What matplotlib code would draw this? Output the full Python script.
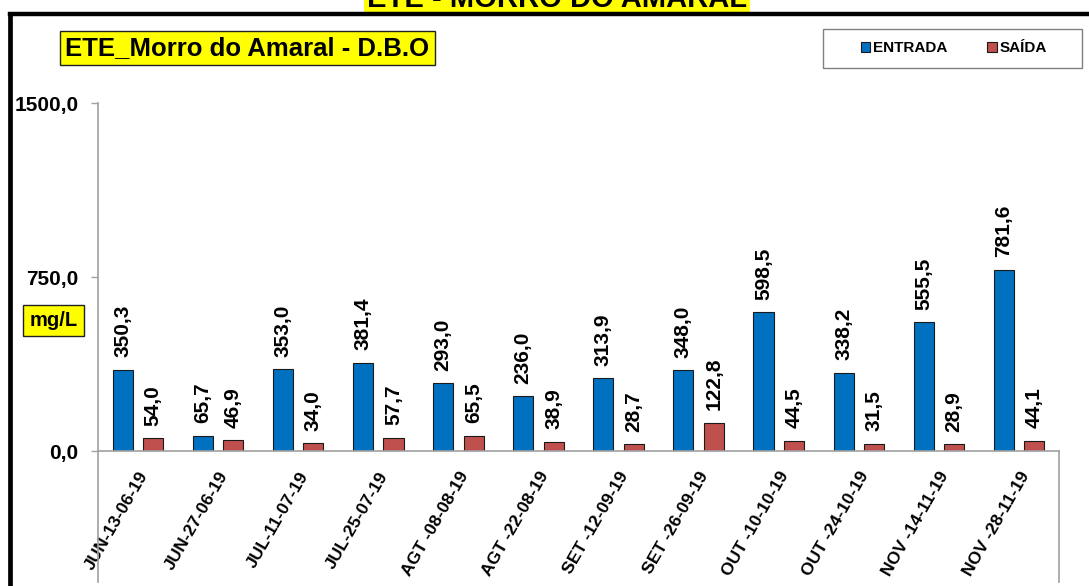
import numpy as np
import matplotlib
matplotlib.use("Agg")
import matplotlib.pyplot as plt
import matplotlib.transforms as mtransforms
from matplotlib.lines import Line2D
from matplotlib.patches import Rectangle

plt.rcParams['font.family'] = ['Liberation Sans', 'DejaVu Sans']
plt.rcParams['font.weight'] = 'bold'

# dados
datas = ['JUN-13-06-19', 'JUN-27-06-19', 'JUL-11-07-19', 'JUL-25-07-19',
         'AGT -08-08-19', 'AGT -22-08-19', 'SET -12-09-19', 'SET -26-09-19',
         'OUT -10-10-19', 'OUT -24-10-19', 'NOV -14-11-19', 'NOV -28-11-19']
entrada = [350.3, 65.7, 353.0, 381.4, 293.0, 236.0, 313.9, 348.0, 598.5, 338.2, 555.5, 781.6]
saida = [54.0, 46.9, 34.0, 57.7, 65.5, 38.9, 28.7, 122.8, 44.5, 31.5, 28.9, 44.1]
yticks = [0, 750, 1500]

W, H = 1089, 586
fig = plt.figure(figsize=(W / 100, H / 100), dpi=100)
ax = fig.add_axes([98 / W, 1 - 451 / H, (1059 - 98) / W, (451 - 103) / H])

x = np.arange(len(datas))
largura = 0.25
b1 = ax.bar(x - 0.19, entrada, largura, color='#0070C0', edgecolor='#1a1a1a', linewidth=0.8, label='ENTRADA')
b2 = ax.bar(x + 0.19, saida, largura, color='#C0504D', edgecolor='#1a1a1a', linewidth=0.8, label='SAÍDA')

def fmt(v):
    return f"{v:.1f}".replace('.', ',')

for bars, vals in ((b1, entrada), (b2, saida)):
    for b, v in zip(bars, vals):
        ax.annotate(fmt(v), (b.get_x() + b.get_width() / 2, v), xytext=(0, 9),
                    textcoords='offset points', rotation=90, ha='center', va='bottom',
                    fontsize=15, fontweight='bold')

ax.set_xlim(-0.5, len(datas) - 0.5)
ax.set_ylim(0, 1500)
ax.set_yticks(yticks)
ax.set_yticklabels([fmt(v) for v in yticks], fontsize=15, fontweight='bold')
ax.set_xticks(x)
ax.set_xticklabels(datas, rotation=60, ha='right', va='top', rotation_mode='anchor',
                   fontsize=12.6, fontweight='bold')
desloc = mtransforms.ScaledTranslation(-5 / 100, 0, fig.dpi_scale_trans)
for lab in ax.get_xticklabels():
    lab.set_transform(lab.get_transform() + desloc)
ax.tick_params(axis='x', length=0, pad=13)
ax.tick_params(axis='y', length=5, width=1, color='#A0A0A0', pad=9)
for s in ('top', 'right'):
    ax.spines[s].set_visible(False)
for s in ('left', 'bottom'):
    ax.spines[s].set_color('#A0A0A0')
    ax.spines[s].set_linewidth(1.2)
ax.set_facecolor('none')

# linhas cinzas abaixo do eixo
fig.add_artist(Line2D([98 / W, 98 / W], [1 - 451 / H, 1 - 582 / H], color='#A0A0A0', lw=1.2))
fig.add_artist(Line2D([1059 / W, 1059 / W], [1 - 451 / H, 1 - 582 / H], color='#A0A0A0', lw=1.2))

# titulo cortado no topo
fig.text(557 / W, 1 - 7 / H, 'ETE - MORRO DO AMARAL', ha='center', va='baseline',
         fontsize=21, fontweight='bold',
         bbox=dict(boxstyle='square,pad=0.1', facecolor='#FFFF00', edgecolor='none'))

# moldura preta
fig.add_artist(Line2D([10 / W, 1.0], [1 - 14 / H, 1 - 14 / H], color='black', lw=3.2, zorder=10))
fig.add_artist(Line2D([10 / W, 10 / W], [1 - 14 / H, 0], color='black', lw=3.4, zorder=10))

# caixas amarelas
fig.text(247.5 / W, 1 - 48 / H, 'ETE_Morro do Amaral - D.B.O', ha='center', va='center',
         fontsize=18.5, fontweight='bold',
         bbox=dict(boxstyle='square,pad=0.2', facecolor='#FFFF00', edgecolor='#222222', lw=1))
fig.text(53.5 / W, 1 - 320.5 / H, 'mg/L', ha='center', va='center',
         fontsize=14.5, fontweight='bold',
         bbox=dict(boxstyle='square,pad=0.3', facecolor='#FFFF00', edgecolor='#222222', lw=1))

# legenda
fig.add_artist(Rectangle((823 / W, 1 - 68 / H), (1082 - 823) / W, 39 / H,
                         transform=fig.transFigure, facecolor='white', edgecolor='#808080', lw=1))
fig.legend(handles=[b1, b2], labels=['ENTRADA', 'SAÍDA'], loc='center',
           bbox_to_anchor=(954 / W, 1 - 48.5 / H), ncol=2, frameon=False,
           prop=dict(size=11, weight='bold'), handlelength=0.6, handleheight=0.6,
           handletextpad=0.2, columnspacing=2.6)

fig.savefig('out.png', dpi=100)
